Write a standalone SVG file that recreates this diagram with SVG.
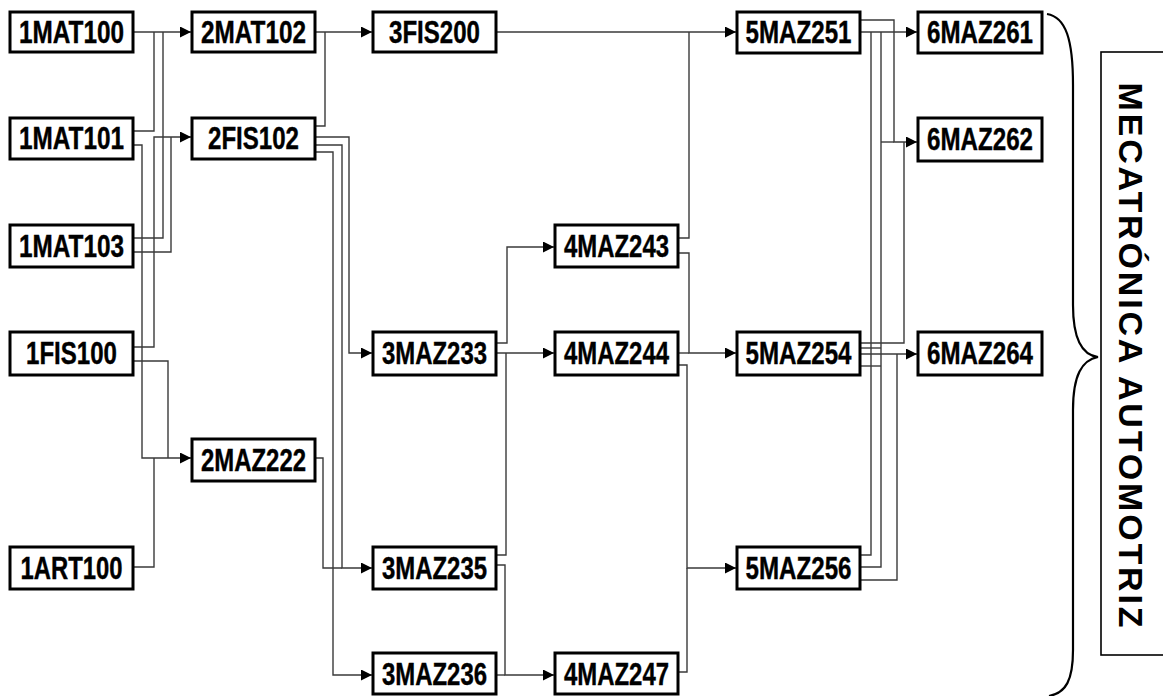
<svg xmlns="http://www.w3.org/2000/svg" width="1163" height="696" viewBox="0 0 1163 696">
<defs>
<style>
.box{fill:#fff;stroke:#000;stroke-width:3}
.lbl{font-family:"Liberation Sans",Arial,sans-serif;font-weight:bold;font-size:31px;fill:#000;text-anchor:middle;stroke:#000;stroke-width:0.4}
.c{fill:none;stroke:#3a3a3a;stroke-width:1.4}
.a{marker-end:url(#arr)}
</style>
<marker id="arr" markerUnits="userSpaceOnUse" markerWidth="12" markerHeight="12" refX="11" refY="5.5" orient="auto">
<path d="M0,0 L11,5.5 L0,11 Z" fill="#000"/>
</marker>
</defs>
<rect width="1163" height="696" fill="#fff"/>

<g id="connectors">
<path class="c a" d="M133,32 H191"/>
<path class="c" d="M133,131 H154 V32"/>
<path class="c" d="M133,238 H163 V32"/>
<path class="c a" d="M133,347 H154 V137 H191"/>
<path class="c" d="M133,252 H171 V137"/>
<path class="c a" d="M133,145 H142 V458 H191"/>
<path class="c" d="M133,361 H168 V458"/>
<path class="c" d="M133,567 H154 V458"/>

<path class="c a" d="M315,32 H372"/>
<path class="c" d="M315,126 H325 V32"/>
<path class="c a" d="M315,137 H349 V353 H372"/>
<path class="c a" d="M315,145 H342 V568 H372"/>
<path class="c a" d="M315,152 H333 V675 H372"/>
<path class="c" d="M315,458 H323 V568 H342"/>

<path class="c a" d="M496,32 H736"/>
<path class="c a" d="M496,343 H507 V247 H554"/>
<path class="c a" d="M496,353 H554"/>
<path class="c" d="M496,555 H506 V353"/>
<path class="c a" d="M496,565 H505 V675 H554"/>
<path class="c" d="M496,675 H505"/>

<path class="c" d="M678,238 H689 V32"/>
<path class="c a" d="M678,253 H689 V353 H736"/>
<path class="c" d="M678,353 H689"/>
<path class="c a" d="M678,365 H687 V568 H736"/>
<path class="c" d="M678,672 H687 V568"/>

<path class="c a" d="M860,32 H917"/>
<path class="c a" d="M860,20 H894 V142 H917"/>
<path class="c" d="M860,555 H871 V32"/>
<path class="c" d="M860,567 H881 V32"/>
<path class="c" d="M881,142 H894"/>
<path class="c" d="M860,343 H904 V142"/>
<path class="c a" d="M860,354 H917"/>
<path class="c" d="M860,348 H881"/>
<path class="c" d="M860,366 H881"/>
<path class="c" d="M860,580 H897 V354"/>
</g>

<g id="n1MAT100"><rect class="box" x="10" y="12" width="123" height="40"/><text class="lbl" x="71.5" y="43" textLength="105" lengthAdjust="spacingAndGlyphs">1MAT100</text></g>
<g id="n1MAT101"><rect class="box" x="10" y="118" width="123" height="41"/><text class="lbl" x="71.5" y="149" textLength="105" lengthAdjust="spacingAndGlyphs">1MAT101</text></g>
<g id="n1MAT103"><rect class="box" x="10" y="225" width="123" height="42"/><text class="lbl" x="71.5" y="257" textLength="105" lengthAdjust="spacingAndGlyphs">1MAT103</text></g>
<g id="n1FIS100"><rect class="box" x="10" y="332" width="123" height="43"/><text class="lbl" x="71.5" y="364" textLength="91" lengthAdjust="spacingAndGlyphs">1FIS100</text></g>
<g id="n1ART100"><rect class="box" x="10" y="547" width="123" height="42"/><text class="lbl" x="71.5" y="579" textLength="102" lengthAdjust="spacingAndGlyphs">1ART100</text></g>

<g id="n2MAT102"><rect class="box" x="192" y="12" width="123" height="40"/><text class="lbl" x="253.5" y="43" textLength="105" lengthAdjust="spacingAndGlyphs">2MAT102</text></g>
<g id="n2FIS102"><rect class="box" x="192" y="118" width="123" height="41"/><text class="lbl" x="253.5" y="149" textLength="91" lengthAdjust="spacingAndGlyphs">2FIS102</text></g>
<g id="n2MAZ222"><rect class="box" x="192" y="439" width="123" height="42"/><text class="lbl" x="253.5" y="471" textLength="105" lengthAdjust="spacingAndGlyphs">2MAZ222</text></g>

<g id="n3FIS200"><rect class="box" x="373" y="12" width="123" height="40"/><text class="lbl" x="434.5" y="43" textLength="91" lengthAdjust="spacingAndGlyphs">3FIS200</text></g>
<g id="n3MAZ233"><rect class="box" x="373" y="332" width="123" height="43"/><text class="lbl" x="434.5" y="364" textLength="105" lengthAdjust="spacingAndGlyphs">3MAZ233</text></g>
<g id="n3MAZ235"><rect class="box" x="373" y="547" width="123" height="42"/><text class="lbl" x="434.5" y="579" textLength="105" lengthAdjust="spacingAndGlyphs">3MAZ235</text></g>
<g id="n3MAZ236"><rect class="box" x="373" y="653" width="123" height="41"/><text class="lbl" x="434.5" y="685" textLength="105" lengthAdjust="spacingAndGlyphs">3MAZ236</text></g>

<g id="n4MAZ243"><rect class="box" x="555" y="225" width="123" height="42"/><text class="lbl" x="616.5" y="257" textLength="105" lengthAdjust="spacingAndGlyphs">4MAZ243</text></g>
<g id="n4MAZ244"><rect class="box" x="555" y="332" width="123" height="43"/><text class="lbl" x="616.5" y="364" textLength="105" lengthAdjust="spacingAndGlyphs">4MAZ244</text></g>
<g id="n4MAZ247"><rect class="box" x="555" y="653" width="123" height="41"/><text class="lbl" x="616.5" y="685" textLength="105" lengthAdjust="spacingAndGlyphs">4MAZ247</text></g>

<g id="n5MAZ251"><rect class="box" x="737" y="12" width="123" height="41"/><text class="lbl" x="798.5" y="43" textLength="106" lengthAdjust="spacingAndGlyphs">5MAZ251</text></g>
<g id="n5MAZ254"><rect class="box" x="737" y="332" width="123" height="43"/><text class="lbl" x="798.5" y="364" textLength="106" lengthAdjust="spacingAndGlyphs">5MAZ254</text></g>
<g id="n5MAZ256"><rect class="box" x="737" y="547" width="123" height="42"/><text class="lbl" x="798.5" y="579" textLength="106" lengthAdjust="spacingAndGlyphs">5MAZ256</text></g>

<g id="n6MAZ261"><rect class="box" x="918" y="12" width="124" height="41"/><text class="lbl" x="980" y="43" textLength="106" lengthAdjust="spacingAndGlyphs">6MAZ261</text></g>
<g id="n6MAZ262"><rect class="box" x="918" y="118" width="124" height="43"/><text class="lbl" x="980" y="150" textLength="106" lengthAdjust="spacingAndGlyphs">6MAZ262</text></g>
<g id="n6MAZ264"><rect class="box" x="918" y="332" width="124" height="43"/><text class="lbl" x="980" y="364" textLength="106" lengthAdjust="spacingAndGlyphs">6MAZ264</text></g>

<g id="brace">
<path d="M1047,14 C1066,17 1073,40 1073,85 L1073,305 C1073,340 1082,355 1098,357 C1082,360 1073,375 1073,410 L1073,650 C1073,680 1066,693 1049,696" fill="none" stroke="#000" stroke-width="2.2"/>
</g>

<g id="career">
<rect x="1101" y="52" width="80" height="603" fill="#fff" stroke="#000" stroke-width="1.6"/>
<text transform="translate(1119,355) rotate(90)" x="0" y="0" font-family="Liberation Sans, Arial, sans-serif" font-weight="bold" font-size="34" text-anchor="middle" textLength="545" lengthAdjust="spacing">MECATRÓNICA AUTOMOTRIZ</text>
</g>
</svg>
